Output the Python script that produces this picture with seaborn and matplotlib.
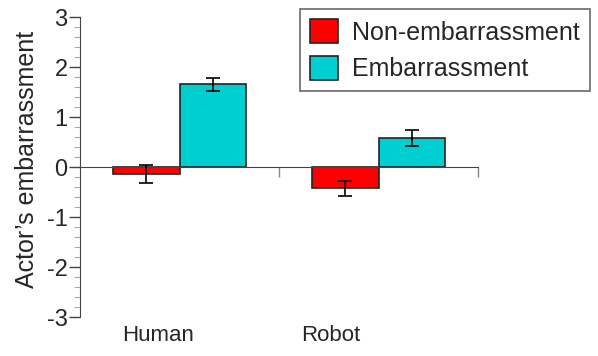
import matplotlib
matplotlib.use("Agg")
import matplotlib.pyplot as plt
from matplotlib.ticker import MultipleLocator
import seaborn as sns
import pandas as pd
import numpy as np

# data
agents = ["Human", "Robot"]
conditions = ["Non-embarrassment", "Embarrassment"]
means_non = [-0.13, -0.42]
means_emb = [1.66, 0.59]
err_non = [0.18, 0.155]
err_emb = [0.13, 0.155]

df = pd.DataFrame({
    "agent": agents * 2,
    "condition": [conditions[0]] * 2 + [conditions[1]] * 2,
    "value": means_non + means_emb,
    "err": err_non + err_emb,
})

sns.set_style("white")
plt.rcParams["font.family"] = ["Liberation Sans", "DejaVu Sans"]
plt.rcParams["axes.unicode_minus"] = False

fig = plt.figure(figsize=(5.98, 3.56), dpi=100)
ax = fig.add_axes([80 / 598, 38.7 / 356, 398 / 598, 300 / 356])

palette = {conditions[0]: "#ff0000", conditions[1]: "#00cfd1"}
sns.barplot(data=df, x="agent", y="value", hue="condition", order=agents,
            hue_order=conditions, palette=palette, errorbar=None,
            width=0.667, gap=0, saturation=1, edgecolor="#222222",
            linewidth=1.2, ax=ax)

# error bars at the bar centres
for cont, cond in zip(ax.containers, conditions):
    sub = df[df.condition == cond].set_index("agent").loc[agents]
    xs = [p.get_x() + p.get_width() / 2 for p in cont.patches]
    ax.errorbar(xs, sub["value"], yerr=sub["err"], fmt="none",
                ecolor="black", elinewidth=1.2, capsize=5, capthick=1.2, zorder=5)

ax.set_xlim(-0.5, 1.5)
ax.set_ylim(-3, 3)
ax.yaxis.set_major_locator(MultipleLocator(1))
ax.yaxis.set_minor_locator(MultipleLocator(0.2))
ax.tick_params(axis="y", which="major", direction="out", length=8, width=1,
               color="#444444", labelsize=17, pad=1, left=True)
ax.tick_params(axis="y", which="minor", direction="out", length=4, width=0.8,
               color="#aaaaaa", left=True)

ax.spines["top"].set_visible(False)
ax.spines["right"].set_visible(False)
ax.spines["bottom"].set_position(("data", 0))
ax.spines["left"].set_color("#444444")
ax.spines["bottom"].set_color("#444444")
ax.set_xticks([0.5, 1.5])
ax.set_xticklabels([])
ax.tick_params(axis="x", which="major", direction="out", length=7, width=1,
               color="#888888", bottom=True)

# category labels below the plot
label_offsets = [-0.11, -0.24]
for i, (name, off) in enumerate(zip(agents, label_offsets)):
    ax.text(i + off, -3.36, name, ha="center", va="center", fontsize=16)

ax.set_xlabel("")
ax.set_ylabel("Actor\u2019s embarrassment", fontsize=18)
ax.yaxis.set_label_coords(-0.103, 0.526)

leg = ax.legend(loc="upper left", bbox_to_anchor=(300 / 598, 1 - 9 / 356),
                bbox_transform=fig.transFigure, fontsize=18, frameon=True,
                fancybox=False, edgecolor="#444444", handlelength=1.1,
                handleheight=1.1, handletextpad=0.6, borderpad=0.4,
                labelspacing=0.45, borderaxespad=0)
leg.get_frame().set_linewidth(1.2)

fig.savefig("out.png", dpi=100)
